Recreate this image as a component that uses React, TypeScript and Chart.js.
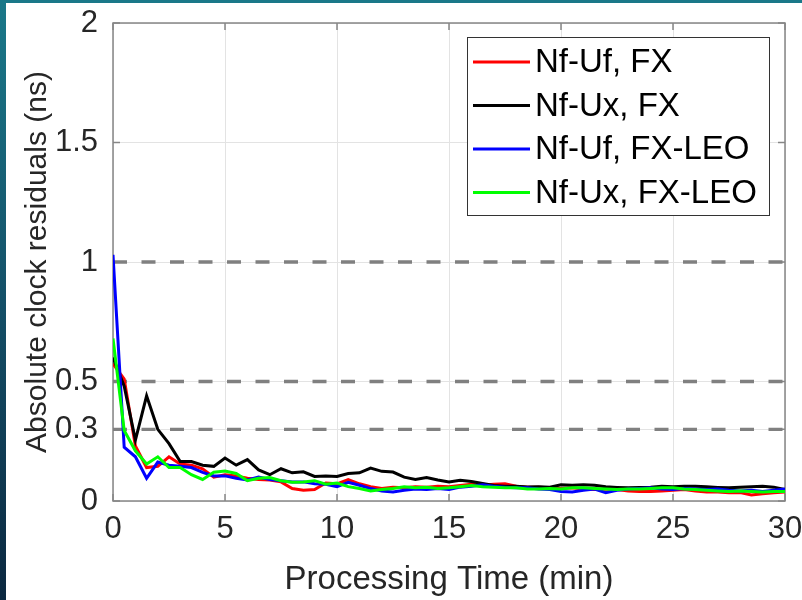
import React, { useEffect, useRef } from "react";
import { Chart, registerables } from "chart.js";

Chart.register(...registerables);

// ---- data ----
const TIME_MIN = [
  0, 0.5, 1, 1.5, 2, 2.5, 3, 3.5, 4, 4.5, 5, 5.5, 6, 6.5, 7, 7.5, 8, 8.5, 9, 9.5,
  10, 10.5, 11, 11.5, 12, 12.5, 13, 13.5, 14, 14.5, 15, 15.5, 16, 16.5, 17, 17.5,
  18, 18.5, 19, 19.5, 20, 20.5, 21, 21.5, 22, 22.5, 23, 23.5, 24, 24.5, 25, 25.5,
  26, 26.5, 27, 27.5, 28, 28.5, 29, 29.5, 30,
];

const NF_UF_FX = [
  0.575, 0.51, 0.23, 0.14, 0.145, 0.185, 0.155, 0.15, 0.135, 0.1, 0.11, 0.105, 0.095,
  0.09, 0.088, 0.08, 0.052, 0.045, 0.048, 0.075, 0.072, 0.09, 0.072, 0.06, 0.052,
  0.058, 0.055, 0.06, 0.058, 0.062, 0.06, 0.065, 0.07, 0.066, 0.07, 0.072, 0.062,
  0.058, 0.058, 0.055, 0.052, 0.055, 0.05, 0.048, 0.05, 0.048, 0.042, 0.04, 0.04,
  0.042, 0.045, 0.048, 0.042, 0.038, 0.038, 0.035, 0.035, 0.025, 0.03, 0.035, 0.038,
];

const NF_UX_FX = [
  0.6, 0.48, 0.255, 0.44, 0.3, 0.24, 0.165, 0.165, 0.15, 0.145, 0.18, 0.15, 0.173,
  0.13, 0.11, 0.135, 0.118, 0.122, 0.103, 0.105, 0.103, 0.115, 0.118, 0.138, 0.124,
  0.121, 0.1, 0.09, 0.098, 0.088, 0.08, 0.087, 0.082, 0.073, 0.065, 0.062, 0.062,
  0.059, 0.06, 0.058, 0.068, 0.066, 0.068, 0.066, 0.06, 0.057, 0.055, 0.056, 0.058,
  0.062, 0.06, 0.062, 0.062, 0.06, 0.057, 0.055, 0.058, 0.06, 0.062, 0.058, 0.048,
];

const NF_UF_FXLEO = [
  1.03, 0.225, 0.185, 0.095, 0.163, 0.15, 0.145, 0.14, 0.12, 0.105, 0.105, 0.095,
  0.088, 0.1, 0.09, 0.085, 0.08, 0.08, 0.072, 0.07, 0.06, 0.078, 0.066, 0.052, 0.042,
  0.038, 0.045, 0.05, 0.048, 0.052, 0.048, 0.058, 0.062, 0.068, 0.062, 0.058, 0.055,
  0.055, 0.05, 0.048, 0.04, 0.038, 0.045, 0.05, 0.035, 0.045, 0.05, 0.052, 0.055,
  0.05, 0.048, 0.052, 0.05, 0.048, 0.05, 0.045, 0.042, 0.045, 0.04, 0.045, 0.05,
];

const NF_UX_FXLEO = [
  0.68, 0.295, 0.21, 0.155, 0.185, 0.14, 0.14, 0.11, 0.09, 0.12, 0.125, 0.115, 0.085,
  0.095, 0.098, 0.085, 0.078, 0.08, 0.085, 0.07, 0.075, 0.06, 0.052, 0.042, 0.048,
  0.052, 0.06, 0.055, 0.058, 0.052, 0.055, 0.06, 0.065, 0.06, 0.058, 0.055, 0.055,
  0.05, 0.05, 0.052, 0.05, 0.055, 0.055, 0.052, 0.05, 0.048, 0.05, 0.05, 0.052,
  0.055, 0.055, 0.05, 0.048, 0.045, 0.042, 0.04, 0.042, 0.04, 0.038, 0.04, 0.04,
];

const SERIES_NAMES = ["Nf-Uf, FX", "Nf-Ux, FX", "Nf-Uf, FX-LEO", "Nf-Ux, FX-LEO"];
const SERIES_COLORS = ["#ff0000", "#000000", "#0000ff", "#00ff00"];
const X_TICKS = [0, 5, 10, 15, 20, 25, 30];
const Y_TICKS = [0, 0.3, 0.5, 1, 1.5, 2];
const REF_LEVELS = [0.3, 0.5, 1];

const FONT = "'Liberation Sans', Arial, Helvetica, sans-serif";
const TEXT = "#262626";
const AXIS = "#868686";

const backgroundPlugin = {
  id: "slideBg",
  beforeDraw(chart: any) {
    const { ctx, width, height } = chart;
    ctx.save();
    ctx.fillStyle = "#ffffff";
    ctx.fillRect(0, 0, width, height);
    const g = ctx.createLinearGradient(0, 0, 0, height);
    g.addColorStop(0, "#1a7889");
    g.addColorStop(0.5, "#145068");
    g.addColorStop(1, "#0b2840");
    ctx.fillStyle = g;
    ctx.fillRect(0, 0, 6, height);
    ctx.fillStyle = "#1a7889";
    ctx.fillRect(0, 0, width, 3);
    ctx.restore();
  },
};

const boxPlugin = {
  id: "matlabBox",
  beforeDatasetsDraw(chart: any) {
    const { ctx, chartArea: a, scales } = chart;
    ctx.save();
    ctx.strokeStyle = AXIS;
    ctx.lineWidth = 1.5;
    ctx.strokeRect(a.left, a.top, a.right - a.left, a.bottom - a.top);
    const tl = 7;
    ctx.beginPath();
    X_TICKS.forEach((v) => {
      const x = scales.x.getPixelForValue(v);
      ctx.moveTo(x, a.bottom);
      ctx.lineTo(x, a.bottom - tl);
      ctx.moveTo(x, a.top);
      ctx.lineTo(x, a.top + tl);
    });
    Y_TICKS.forEach((v) => {
      const y = scales.y.getPixelForValue(v);
      ctx.moveTo(a.left, y);
      ctx.lineTo(a.left + tl, y);
      ctx.moveTo(a.right, y);
      ctx.lineTo(a.right - tl, y);
    });
    ctx.stroke();
    ctx.restore();
  },
};

const legendPlugin = {
  id: "boxLegend",
  afterDatasetsDraw(chart: any) {
    const { ctx } = chart;
    const left = 467;
    const top = 37;
    const w = 302;
    const h = 178;
    ctx.save();
    ctx.fillStyle = "#ffffff";
    ctx.fillRect(left, top, w, h);
    ctx.strokeStyle = "#333333";
    ctx.lineWidth = 1;
    ctx.strokeRect(left + 0.5, top + 0.5, w, h);
    ctx.font = `33px ${FONT}`;
    ctx.textBaseline = "middle";
    ctx.textAlign = "left";
    SERIES_NAMES.forEach((name, i) => {
      const y = 62 + i * 43.5;
      ctx.strokeStyle = SERIES_COLORS[i];
      ctx.lineWidth = 3;
      ctx.beginPath();
      ctx.moveTo(473, y);
      ctx.lineTo(530, y);
      ctx.stroke();
      ctx.fillStyle = "#000000";
      ctx.fillText(name, 535, y + 1);
    });
    ctx.restore();
  },
};

const noOverhang = (s: any) => {
  s.paddingLeft = 0;
  s.paddingRight = 0;
  s.paddingTop = 0;
  s.paddingBottom = 0;
};

export default function App() {
  const ref = useRef<HTMLCanvasElement | null>(null);

  useEffect(() => {
    if (!ref.current) return;
    const seriesValues = [NF_UF_FX, NF_UX_FX, NF_UF_FXLEO, NF_UX_FXLEO];
    const seriesOrder = [3, 2, 1, 0];
    const dataSets: any[] = seriesValues.map((vals, i) => ({
      label: SERIES_NAMES[i],
      data: TIME_MIN.map((t, k) => ({ x: t, y: vals[k] })),
      borderColor: SERIES_COLORS[i],
      backgroundColor: SERIES_COLORS[i],
      borderWidth: 3,
      pointRadius: 0,
      fill: false,
      tension: 0,
      order: seriesOrder[i],
    }));
    REF_LEVELS.forEach((lv, i) => {
      dataSets.push({
        label: `ref${i}`,
        data: [
          { x: X_TICKS[0], y: lv },
          { x: X_TICKS[X_TICKS.length - 1], y: lv },
        ],
        borderColor: "#808080",
        borderWidth: 3.3,
        borderDash: [14, 14.5],
        pointRadius: 0,
        fill: false,
        order: 10 + i,
      });
    });

    const chart = new Chart(ref.current, {
      type: "line",
      data: { datasets: dataSets },
      options: {
        animation: false,
        responsive: false,
        maintainAspectRatio: false,
        layout: { padding: { top: 23, right: 17, bottom: 0, left: 0 } },
        plugins: { legend: { display: false }, tooltip: { enabled: false } },
        scales: {
          x: {
            type: "linear",
            min: 0,
            max: 30,
            afterBuildTicks: (s: any) => {
              s.ticks = X_TICKS.map((v) => ({ value: v }));
            },
            afterFit: (s: any) => {
              s.height = 99;
              noOverhang(s);
            },
            grid: { color: "#e3e3e3", lineWidth: 1, drawTicks: false },
            border: { display: false },
            ticks: {
              padding: 10,
              maxRotation: 0,
              color: TEXT,
              font: { family: FONT, size: 31 },
              callback: (v: any) => String(v),
            },
            title: {
              display: true,
              text: "Processing Time (min)",
              color: TEXT,
              font: { family: FONT, size: 33 },
              padding: { top: 0, bottom: 0 },
            },
          },
          y: {
            type: "linear",
            min: 0,
            max: 2,
            afterBuildTicks: (s: any) => {
              s.ticks = Y_TICKS.map((v) => ({ value: v }));
            },
            afterFit: (s: any) => {
              s.width = 113;
              noOverhang(s);
            },
            grid: { color: "#e3e3e3", lineWidth: 1, drawTicks: false },
            border: { display: false },
            ticks: {
              padding: 15,
              color: TEXT,
              font: { family: FONT, size: 31 },
              callback: (v: any) => String(v),
            },
            title: {
              display: true,
              text: "Absolute clock residuals (ns)",
              color: TEXT,
              font: { family: FONT, size: 30 },
              padding: { top: 20, bottom: 0 },
            },
          },
        },
      },
      plugins: [backgroundPlugin, boxPlugin, legendPlugin],
    } as any);
    return () => chart.destroy();
  }, []);

  return (
    <div style={{ position: "absolute", left: 0, top: 0, width: 802, height: 600 }}>
      <canvas ref={ref} width={802} height={600} style={{ width: 802, height: 600 }} />
    </div>
  );
}
